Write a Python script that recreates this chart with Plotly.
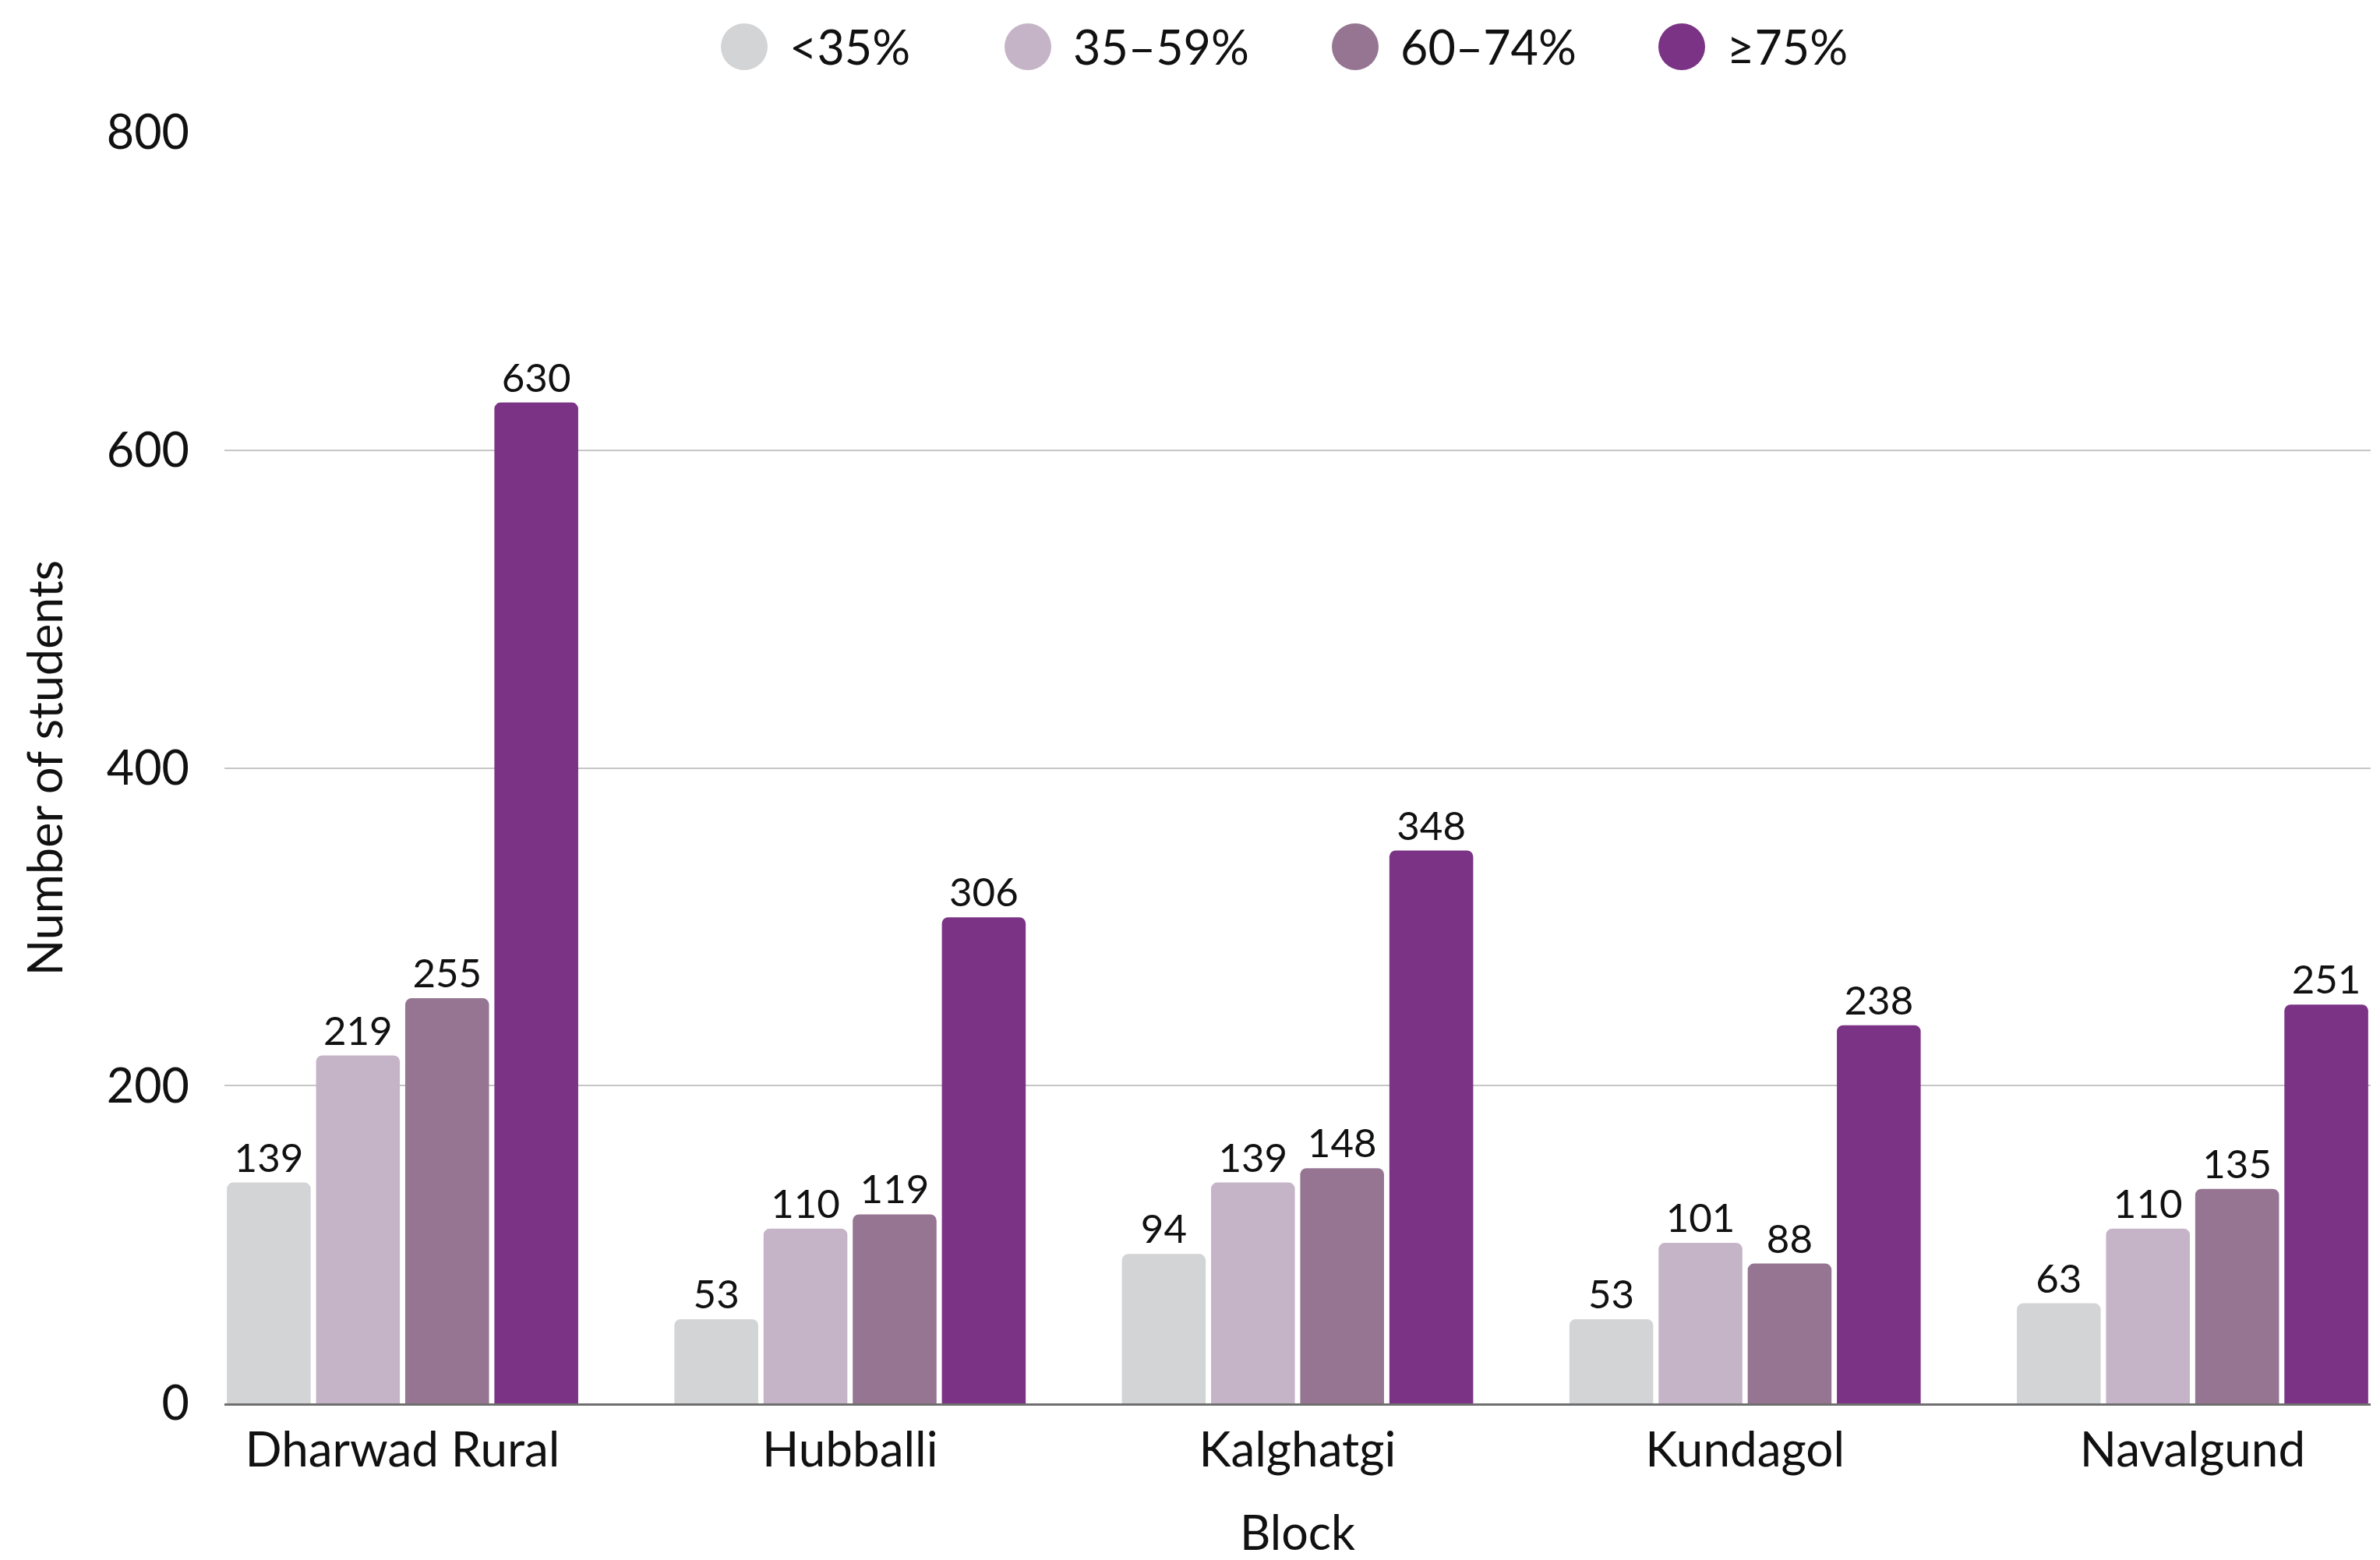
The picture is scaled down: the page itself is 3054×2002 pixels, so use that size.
import plotly.graph_objects as go

blocks = ["Dharwad Rural", "Hubballi", "Kalghatgi", "Kundagol", "Navalgund"]
bands = ["<35%", "35–59%", "60–74%", "≥75%"]
lt35 = [139, 53, 94, 53, 63]
b35_59 = [219, 110, 139, 101, 110]
b60_74 = [255, 119, 148, 88, 135]
ge75 = [630, 306, 348, 238, 251]
band_colors = ["#D3D4D6", "#C5B4C7", "#957591", "#7B3385"]

W, H = 3054, 2002
# the page puts the figure 8px in from the top-left corner
L, R, T, B = 280, 20, 162, 209
FONT = "Lato, 'Noto Sans', sans-serif"
TXT = "#111111"

def px(p):
    return (p - 8 - L) / (W - L - R)

def py(p):
    return (H - B - (p - 8)) / (H - B - T)

fig = go.Figure()
for name, vals, col in zip(bands, [lt35, b35_59, b60_74, ge75], band_colors):
    fig.add_trace(go.Bar(
        name=name,
        x=blocks,
        y=vals,
        marker={"color": col, "line": {"width": 0}, "cornerradius": 8},
        text=[str(v) for v in vals],
        textposition="outside",
        textfont={"size": 51, "color": TXT, "family": FONT},
        cliponaxis=False,
        showlegend=False,
    ))

# legend drawn by hand so the round swatches come out at full size
legend_circle_x = [955, 1319, 1739, 2158]
legend_y = 60
shapes = []
annos = []
for name, col, cx in zip(bands, band_colors, legend_circle_x):
    shapes.append(dict(
        type="circle", xref="paper", yref="paper",
        xsizemode="pixel", ysizemode="pixel",
        xanchor=px(cx), yanchor=py(legend_y),
        x0=-30, x1=30, y0=-30, y1=30,
        fillcolor=col, line={"width": 0},
    ))
    annos.append(dict(
        x=px(cx + 56), y=py(legend_y), xref="paper", yref="paper",
        text=name, showarrow=False, xanchor="left", yanchor="middle",
        font={"size": 61, "color": TXT, "family": FONT},
    ))

fig.update_layout(
    width=W, height=H,
    margin={"l": L, "r": R, "t": T, "b": B},
    paper_bgcolor="white", plot_bgcolor="white",
    barmode="group", bargap=0.203, bargroupgap=0.06,
    font={"family": FONT, "color": TXT, "size": 60},
    shapes=shapes, annotations=annos,
    showlegend=False,
)
fig.update_xaxes(
    range=[-0.398, 4.398], automargin=False,
    showline=True, linecolor="#6f6f6f", linewidth=3,
    showgrid=False, ticks="",
    tickfont={"size": 62, "color": TXT},
    ticklabelstandoff=4,
    title={"text": "Block", "font": {"size": 61, "color": TXT}, "standoff": 52},
)
fig.update_yaxes(
    range=[0, 800], dtick=200, automargin=False,
    showgrid=True, gridcolor="#c6c6c6", gridwidth=2,
    zeroline=False, showline=False, ticks="",
    tickfont={"size": 61, "color": TXT},
    ticklabelstandoff=44,
    title={"text": "Number of students", "font": {"size": 61, "color": TXT}, "standoff": 36},
)

fig.write_html("out.html")
